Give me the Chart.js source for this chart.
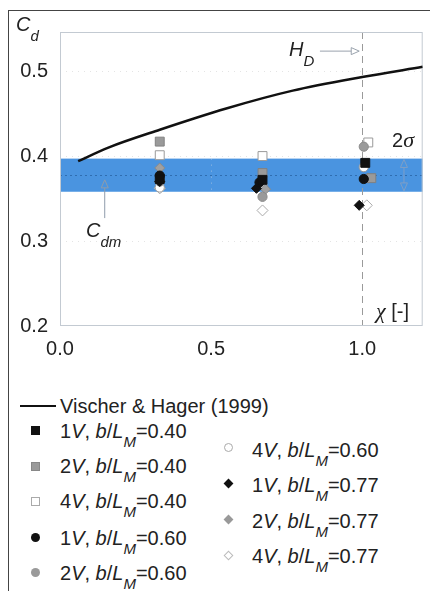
<!DOCTYPE html>
<html>
<head>
<meta charset="utf-8">
<script src="https://cdn.jsdelivr.net/npm/chart.js@4.4.1/dist/chart.umd.min.js"></script>
<style>
  html, body { margin: 0; padding: 0; background: #fff; }
  body { width: 430px; height: 591px; position: relative; overflow: hidden;
         font-family: "Liberation Sans", Arial, sans-serif; color: #222; }
  #moldura { position: absolute; left: 8px; top: 10px; width: 440px; height: 600px;
             border-left: 1.5px solid #444; border-top: 1.5px solid #444; }
  #grafico { position: absolute; left: 0; top: 0; }
  .txt { position: absolute; font-size: 20px; line-height: 20px; white-space: nowrap; }
  .sub { font-size: 15px; font-style: italic; position: relative; top: 9px; }
  .gr { font-family: "Liberation Serif", serif; font-style: italic; font-size: 22px; }
  .mk { position: absolute; box-sizing: border-box; }
</style>
</head>
<body>
<div id="moldura"></div>
<canvas id="grafico" width="430" height="390"></canvas>

<!-- textos dentro do grafico -->
<div class="txt" style="left:16px;top:14px"><i>C</i><span class="sub" style="top:10px">d</span></div>
<div class="txt" style="left:289px;top:39px"><i>H</i><span class="sub" style="top:10px">D</span></div>
<div class="txt" style="left:86px;top:220px"><i>C</i><span class="sub" style="top:10px">dm</span></div>
<div class="txt" style="left:392px;top:130px">2<span class="gr">σ</span></div>
<div class="txt" style="left:376px;top:301px"><span class="gr">χ</span> [-]</div>

<!-- legenda -->
<div class="mk" style="left:20px;top:405px;width:36px;height:2px;background:#111"></div>
<div class="txt" style="left:60px;top:396px">Vischer &amp; Hager (1999)</div>

<div class="mk" style="left:31px;top:426px;width:9px;height:9px;background:#111"></div>
<div class="txt" style="left:60px;top:421px">1<i>V</i>, <i>b</i>/<i>L</i><span class="sub">M</span>=0.40</div>
<div class="mk" style="left:31px;top:462px;width:9px;height:9px;background:#9a9a9a;border:1px solid #888"></div>
<div class="txt" style="left:60px;top:456px">2<i>V</i>, <i>b</i>/<i>L</i><span class="sub">M</span>=0.40</div>
<div class="mk" style="left:31px;top:497px;width:9px;height:9px;background:#fff;border:1px solid #aaa"></div>
<div class="txt" style="left:60px;top:491px">4<i>V</i>, <i>b</i>/<i>L</i><span class="sub">M</span>=0.40</div>
<div class="mk" style="left:31px;top:533px;width:9px;height:9px;background:#111;border-radius:50%"></div>
<div class="txt" style="left:60px;top:528px">1<i>V</i>, <i>b</i>/<i>L</i><span class="sub">M</span>=0.60</div>
<div class="mk" style="left:31px;top:568px;width:9px;height:9px;background:#9a9a9a;border-radius:50%"></div>
<div class="txt" style="left:60px;top:563px">2<i>V</i>, <i>b</i>/<i>L</i><span class="sub">M</span>=0.60</div>

<div class="mk" style="left:224px;top:443px;width:9px;height:9px;background:#fff;border:1px solid #aaa;border-radius:50%"></div>
<div class="txt" style="left:252px;top:440px">4<i>V</i>, <i>b</i>/<i>L</i><span class="sub">M</span>=0.60</div>
<div class="mk" style="left:225px;top:480px;width:7px;height:7px;background:#111;transform:rotate(45deg)"></div>
<div class="txt" style="left:252px;top:475px">1<i>V</i>, <i>b</i>/<i>L</i><span class="sub">M</span>=0.77</div>
<div class="mk" style="left:225px;top:516px;width:7px;height:7px;background:#999;transform:rotate(45deg)"></div>
<div class="txt" style="left:252px;top:511px">2<i>V</i>, <i>b</i>/<i>L</i><span class="sub">M</span>=0.77</div>
<div class="mk" style="left:225px;top:552px;width:7px;height:7px;background:#fff;border:1px solid #bbb;transform:rotate(45deg)"></div>
<div class="txt" style="left:252px;top:546px">4<i>V</i>, <i>b</i>/<i>L</i><span class="sub">M</span>=0.77</div>

<script>
// eixos
const xTicks = [0.0, 0.5, 1.0];
const yTicks = [0.2, 0.3, 0.4, 0.5];

// curva de Vischer & Hager (1999)
const chiCurva = [0.06, 0.16, 0.33, 0.55, 0.77, 1.0, 1.2];
const cdCurva = [0.394, 0.410, 0.431, 0.456, 0.477, 0.493, 0.505];

// faixa 2 sigma e media C_dm
const faixaCd = [0.358, 0.397];
const cdMedio = 0.378;

// ensaios: chi e Cd
const chi1V040 = [0.33, 0.67, 1.01];
const cd1V040 = [0.373, 0.372, 0.392];
const chi2V040 = [0.33, 0.67, 1.03];
const cd2V040 = [0.417, 0.380, 0.374];
const chi4V040 = [0.33, 0.67, 1.02];
const cd4V040 = [0.401, 0.400, 0.416];
const chi1V060 = [0.33, 0.66, 1.005];
const cd1V060 = [0.377, 0.369, 0.373];
const chi2V060 = [0.33, 0.67, 1.005];
const cd2V060 = [0.370, 0.352, 0.411];
const chi4V060 = [0.33, 0.67, 1.005];
const cd4V060 = [0.363, 0.366, 0.387];
const chi1V077 = [0.33, 0.65, 0.99];
const cd1V077 = [0.370, 0.362, 0.342];
const chi2V077 = [0.33, 0.68, 1.02];
const cd2V077 = [0.386, 0.361, 0.374];
const chi4V077 = [0.33, 0.67, 1.015];
const cd4V077 = [0.362, 0.336, 0.342];

function pontos(chi, cd) {
  return chi.map((c, i) => ({ x: c, y: cd[i] }));
}

function serie(chi, cd, estilo, cor, borda, raio) {
  return {
    type: "scatter",
    data: pontos(chi, cd),
    pointStyle: estilo,
    pointRadius: raio,
    backgroundColor: cor,
    borderColor: borda,
    borderWidth: 1,
  };
}

function seta(ctx, x1, y1, x2, y2, cor) {
  const ang = Math.atan2(y2 - y1, x2 - x1);
  const L = 8, W = 3.5;
  const bx = x2 - L * Math.cos(ang), by = y2 - L * Math.sin(ang);
  ctx.strokeStyle = cor;
  ctx.lineWidth = 1;
  ctx.setLineDash([]);
  ctx.beginPath();
  ctx.moveTo(x1, y1);
  ctx.lineTo(bx, by);
  ctx.stroke();
  ctx.beginPath();
  ctx.moveTo(x2, y2);
  ctx.lineTo(bx + W * Math.sin(ang), by - W * Math.cos(ang));
  ctx.lineTo(bx - W * Math.sin(ang), by + W * Math.cos(ang));
  ctx.closePath();
  ctx.stroke();
}

const decoracao = {
  id: "decoracao",
  beforeDatasetsDraw(chart) {
    const { ctx, chartArea: a, scales: { x, y } } = chart;
    ctx.save();
    const yTopo = y.getPixelForValue(faixaCd[1]);
    const yBase = y.getPixelForValue(faixaCd[0]);
    ctx.fillStyle = "#4a94e0";
    ctx.fillRect(a.left, yTopo, a.right - a.left, yBase - yTopo);

    // grade pontilhada bem clara
    ctx.lineWidth = 1;
    ctx.setLineDash([1, 5]);
    ctx.strokeStyle = "rgba(205,205,205,0.55)";
    yTicks.slice(1).forEach((v) => {
      const py = Math.round(y.getPixelForValue(v)) + 0.5;
      ctx.beginPath(); ctx.moveTo(a.left, py); ctx.lineTo(a.right, py); ctx.stroke();
    });
    ctx.strokeStyle = "rgba(230,230,230,0.5)";
    const px05 = Math.round(x.getPixelForValue(0.5)) + 0.5;
    ctx.beginPath(); ctx.moveTo(px05, yTopo); ctx.lineTo(px05, yBase); ctx.stroke();

    // media
    ctx.strokeStyle = "#2f6db0";
    ctx.setLineDash([2, 3]);
    const pm = Math.round(y.getPixelForValue(cdMedio)) + 0.5;
    ctx.beginPath(); ctx.moveTo(a.left, pm); ctx.lineTo(a.right, pm); ctx.stroke();

    // H_D em chi = 1
    ctx.strokeStyle = "#9a9a9a";
    ctx.setLineDash([7, 5]);
    const p1 = Math.round(x.getPixelForValue(1.0)) + 0.5;
    ctx.beginPath(); ctx.moveTo(p1, a.top); ctx.lineTo(p1, a.bottom); ctx.stroke();

    // moldura do grafico
    ctx.setLineDash([]);
    ctx.strokeStyle = "#c3cad2";
    ctx.strokeRect(a.left + 0.5, a.top + 0.5, a.right - a.left - 1, a.bottom - a.top - 1);
    ctx.restore();
  },
  afterDatasetsDraw(chart) {
    const { ctx, scales: { x, y } } = chart;
    ctx.save();
    seta(ctx, x.getPixelForValue(0.86), y.getPixelForValue(0.5235),
      x.getPixelForValue(0.99), y.getPixelForValue(0.5235), "#9aa3ad");
    seta(ctx, x.getPixelForValue(0.148), y.getPixelForValue(0.327),
      x.getPixelForValue(0.148), y.getPixelForValue(0.372), "#8f9cab");
    const xs = x.getPixelForValue(1.138);
    const yMeio = y.getPixelForValue(cdMedio);
    seta(ctx, xs, yMeio, xs, y.getPixelForValue(faixaCd[1] - 0.001), "#7f9fc6");
    seta(ctx, xs, yMeio, xs, y.getPixelForValue(faixaCd[0] + 0.001), "#7f9fc6");
    ctx.restore();
  },
};

const fonteEixo = { family: "Liberation Sans", size: 20 };

const grafico = new Chart(document.getElementById("grafico"), {
  type: "scatter",
  data: {
    datasets: [
      serie(chi1V040, cd1V040, "rect", "#111", "#111", 6.3),
      serie(chi1V060, cd1V060, "circle", "#111", "#111", 4.6),
      serie(chi1V077, cd1V077, "rectRot", "#111", "#111", 5),
      serie(chi2V040, cd2V040, "rect", "#9a9a9a", "#808080", 6.3),
      serie(chi2V060, cd2V060, "circle", "#9a9a9a", "#8a8a8a", 4.6),
      serie(chi2V077, cd2V077, "rectRot", "#a0a0a0", "#8a8a8a", 5),
      serie(chi4V040, cd4V040, "rect", "#fff", "#9a9a9a", 6.3),
      serie(chi4V060, cd4V060, "circle", "#fff", "#9a9a9a", 4.6),
      serie(chi4V077, cd4V077, "rectRot", "#fff", "#aaa", 5.5),
      {
        type: "line",
        data: pontos(chiCurva, cdCurva),
        borderColor: "#111",
        borderWidth: 2.5,
        pointRadius: 0,
        cubicInterpolationMode: "monotone",
        fill: false,
      },
    ],
  },
  options: {
    responsive: false,
    animation: false,
    devicePixelRatio: 1,
    layout: { padding: { left: 0, top: 32, right: 4, bottom: 0 } },
    plugins: { legend: { display: false }, tooltip: { enabled: false } },
    scales: {
      x: {
        type: "linear",
        min: 0,
        max: 1.2,
        afterBuildTicks: (s) => { s.ticks = xTicks.map((v) => ({ value: v })); },
        afterFit: (s) => { s.height = 64; },
        ticks: { callback: (v) => v.toFixed(1), font: fonteEixo, color: "#222", padding: 11 },
        grid: { display: false, drawTicks: false },
        border: { display: false },
      },
      y: {
        type: "linear",
        min: 0.2,
        max: 0.546,
        afterBuildTicks: (s) => { s.ticks = yTicks.map((v) => ({ value: v })); },
        afterFit: (s) => { s.width = 60; },
        ticks: { callback: (v) => v.toFixed(1), font: fonteEixo, color: "#222", padding: 12 },
        grid: { display: false, drawTicks: false },
        border: { display: false },
      },
    },
  },
  plugins: [decoracao],
});
</script>
</body>
</html>
